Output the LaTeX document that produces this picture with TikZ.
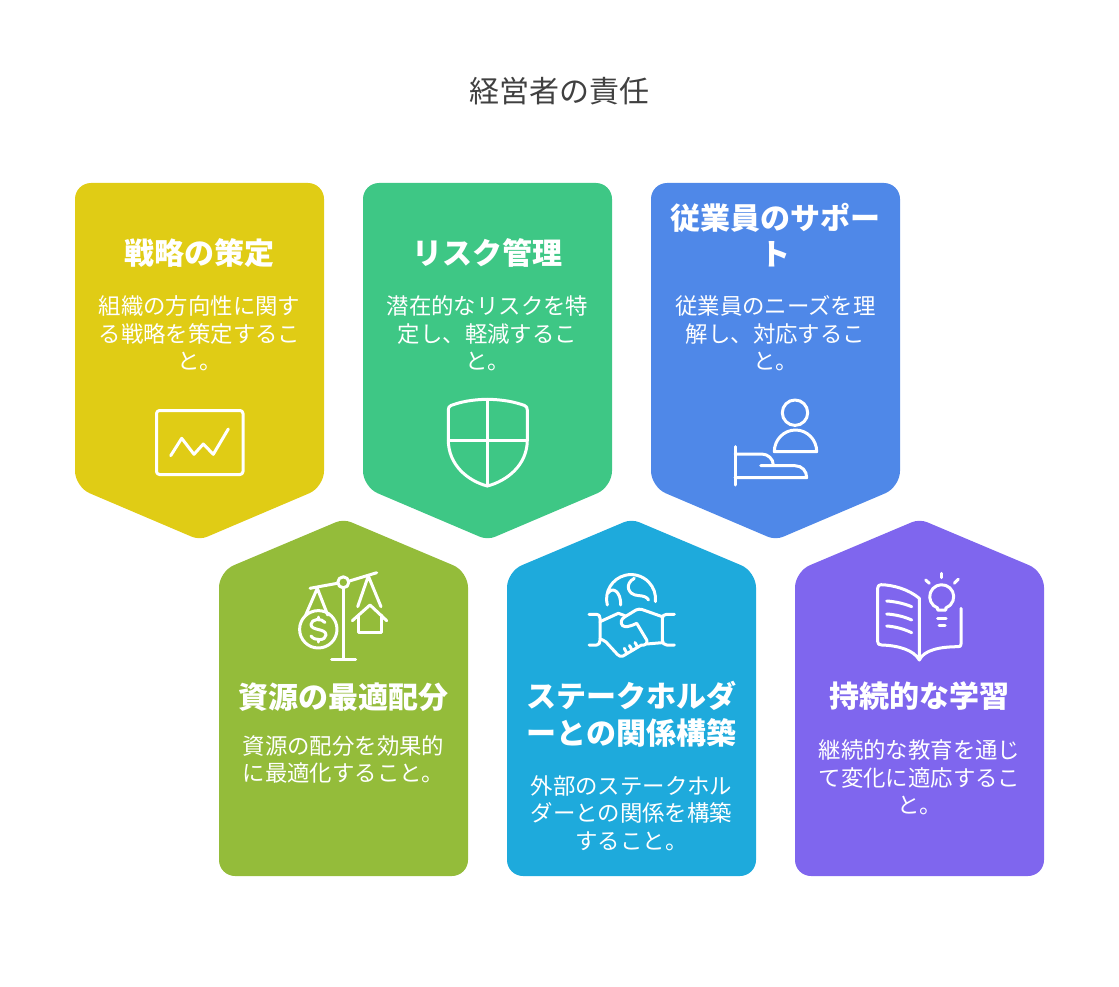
\documentclass[tikz,border=0pt]{standalone}
\usepackage{fontspec}
\setmainfont{Noto Sans CJK JP}
\usetikzlibrary{positioning,calc}
\definecolor{cardYellow}{HTML}{E0CC15}
\definecolor{cardGreen}{HTML}{3EC785}
\definecolor{cardBlue}{HTML}{4F88E8}
\definecolor{cardOlive}{HTML}{94BC3A}
\definecolor{cardSky}{HTML}{1EAADC}
\definecolor{cardPurple}{HTML}{7F66EE}
\tikzset{
  titletext/.style={inner sep=0pt, text=black!75, font=\fontsize{30}{36}\selectfont},
  headtext/.style={inner sep=0pt, align=center, text=white, font=\fontsize{30}{36.5}\selectfont\bfseries},
  bodytext/.style={inner sep=0pt, align=center, text=white, font=\fontsize{22.4}{27.5}\selectfont},
  icon/.style={draw=white, line width=3pt, line cap=round, line join=round}
}
\begin{document}
\begin{tikzpicture}[x=1pt, y=-1pt]
  \useasboundingbox (0,0) rectangle (1119,987);
  % cards
  \foreach \cx/\col in {75/cardYellow, 363/cardGreen, 651/cardBlue}
    \fill[\col] (\cx+100,183) [rounded corners=16] -- (\cx+249,183) -- (\cx+249,487) [rounded corners=8] -- (\cx+124.5,540) [rounded corners=16] -- (\cx,487) -- (\cx,183) [sharp corners] -- cycle;
  \foreach \cx/\col in {219/cardOlive, 507/cardSky, 795/cardPurple}
    \fill[\col] (\cx+100,876) [rounded corners=16] -- (\cx+249,876) -- (\cx+249,571.5) [rounded corners=8] -- (\cx+124.5,519) [rounded corners=16] -- (\cx,571.5) -- (\cx,876) [sharp corners] -- cycle;

  \node[titletext] (title) at (559.5,91) {経営者の責任};

  \node[headtext] (headStrategy) at (199.5,253) {戦略の策定};
  \node[bodytext] (bodyStrategy) at (199.5,333.5) {組織の方向性に関す\\る戦略を策定するこ\\と。};
  \node[headtext] (headRisk) at (487.5,253) {リスク管理};
  \node[bodytext] (bodyRisk) at (487.5,333.5) {潜在的なリスクを特\\定し、軽減するこ\\と。};
  \node[headtext] (headStaff) at (775.5,235) {従業員のサポー\\ト};
  \node[bodytext] (bodyStaff) at (775.5,333.5) {従業員のニーズを理\\解し、対応するこ\\と。};
  \node[headtext] (headResource) at (343.5,697) {資源の最適配分};
  \node[bodytext] (bodyResource) at (343.5,759.5) {資源の配分を効果的\\に最適化すること。};
  \node[headtext] (headHolder) at (631.5,714) {ステークホルダ\\ーとの関係構築};
  \node[bodytext] (bodyHolder) at (631.5,813) {外部のステークホル\\ダーとの関係を構築\\すること。};
  \node[headtext] (headLearn) at (919.5,696) {持続的な学習};
  \node[bodytext] (bodyLearn) at (919.5,777.5) {継続的な教育を通じ\\て変化に適応するこ\\と。};

  % chart
  \draw[icon, rounded corners=3] (156.5,410.5) rectangle (243,474.5);
  \draw[icon] (170.7,455.7) -- (181.7,438.3) -- (194,454.3) -- (203.3,444) -- (213.3,454.3) -- (228.3,429);

  % shield
  \draw[icon] (487.3,399.3) .. controls (472,399.5) and (460,402) .. (451,405.5) .. controls (449,406.5) and (448.3,407.5) .. (448.3,410) -- (448.3,440) .. controls (448.3,465) and (468,481) .. (487.3,486) .. controls (507,481) and (527.3,465) .. (527.3,440) -- (527.3,410) .. controls (527.3,407.5) and (526.5,406.5) .. (524.5,405.5) .. controls (515,402) and (503,399.5) .. (487.3,399.3) -- cycle;
  \draw[icon] (487.3,399.3) -- (487.3,486);
  \draw[icon] (448.3,440) -- (527.3,440);

  % person and hand
  \draw[icon] (795,412.7) circle (12.7);
  \draw[icon] (774.3,451.7) arc (180:360:21.2 and 21.7) -- cycle;
  \draw[icon] (735,446.7) -- (735,485);
  \draw[icon] (735,454) -- (761.7,454) .. controls (768,454) and (773.3,459) .. (773.3,465);
  \draw[icon] (760.7,465.7) -- (795,465.7) .. controls (802,465.7) and (806.7,471) .. (806.7,477.7) -- (735,477.7);

  % scale
  \draw[icon] (310,588.3) -- (337.9,583.2);
  \draw[icon] (348.8,581.2) -- (376.7,572.7);
  \draw[icon] (343.3,582.3) circle (5.5);
  \draw[icon] (343.3,588) -- (343.3,659.3);
  \draw[icon] (331.7,659.3) -- (355.7,659.3);
  \draw[icon] (305.7,615) -- (317.3,588.3) -- (327.7,615);
  \draw[icon] (318.3,629.3) circle (18.7);
  \draw[icon] (325,622.5) .. controls (322,618) and (311,618.5) .. (311,624.5) .. controls (311,631) and (326,628) .. (326,635) .. controls (326,641) and (314,641) .. (311,636);
  \draw[icon] (318.3,617) -- (318.3,619);
  \draw[icon] (318.3,640) -- (318.3,642);
  \draw[icon] (357.7,606.7) -- (368.3,576) -- (381,606.7);
  \draw[icon] (352.3,620.7) -- (370,605) -- (386.7,620.7);
  \draw[icon] (358.3,615) -- (358.3,632.7) -- (381.7,632.7) -- (381.7,615);

  % handshake and globe
  \draw[icon] (607.3,605) arc (166:366:24.5);
  \draw[icon] (608,593) .. controls (613,586) and (621,592) .. (620.7,605);
  \draw[icon] (634.3,578.3) .. controls (624,584) and (628,595) .. (638,595.5) .. controls (644,596) and (647,597) .. (648.5,600);
  \draw[icon] (589,614.3) -- (596.7,614.3) .. controls (599,614.3) and (600,616) .. (600,618.3) -- (600,640) .. controls (600,643) and (599,645) .. (596.7,645) -- (589,645);
  \draw[icon] (674.3,614.3) -- (666.7,614.3) .. controls (664,614.3) and (662.3,616) .. (662.3,618.3) -- (662.3,640) .. controls (662.3,643) and (664,645) .. (666.7,645) -- (674.3,645);
  \draw[icon] (600,621.7) -- (618.3,613.3) -- (625,615.7);
  \draw[icon] (662.3,616.7) -- (642,609.5) .. controls (640,609) and (638,609) .. (636,610) -- (625,616.7) .. controls (621,619) and (620,623) .. (622.5,625.5) .. controls (625,627.5) and (629,627) .. (636.7,623.3) -- (646.7,640) .. controls (648,643) and (645,646) .. (641.5,645) -- (623,656) .. controls (621,657) and (619,656) .. (617.5,654.5) -- (606,642) .. controls (604,640.5) and (602,639.5) .. (600,639);
  \draw[icon] (661.7,642.7) -- (646.7,644);
  \draw[icon] (626.7,653) -- (624.3,648.3);
  \draw[icon] (632,650) -- (629.5,645.5);
  \draw[icon] (637.5,647) -- (635,642.5);

  % book and bulb
  \draw[icon] (919.3,660) -- (919.3,598.3) .. controls (908,589) and (893,585) .. (881,584.7) .. controls (879,584.7) and (877.7,586) .. (877.7,588) -- (877.7,641.7) .. controls (877.7,644) and (879,645) .. (881.7,645) .. controls (898,645.5) and (914,650) .. (919.3,660) .. controls (924,650) and (940,646.7) .. (958.3,646.7) .. controls (960,646.7) and (961,646) .. (961,644) -- (961,608.3);
  \draw[icon] (886.7,601) .. controls (895,601.5) and (904,603.5) .. (911.7,606.7);
  \draw[icon] (886.7,614) .. controls (895,614.5) and (904,616.5) .. (911.7,620);
  \draw[icon] (886.7,626) .. controls (895,626.5) and (904,629) .. (911.7,632.7);
  \draw[icon] (937.6,610) -- (937.6,608) arc (110:430:12) -- (945.8,610) -- cycle;
  \draw[icon] (937.7,618.3) -- (946,618.3);
  \draw[icon] (939,625.7) -- (945,625.7);
  \draw[icon] (941.7,573.3) -- (941.7,577.7);
  \draw[icon] (925.7,580) -- (929.3,583.3);
  \draw[icon] (958.3,579.3) -- (954.3,583.3);
\end{tikzpicture}
\end{document}
